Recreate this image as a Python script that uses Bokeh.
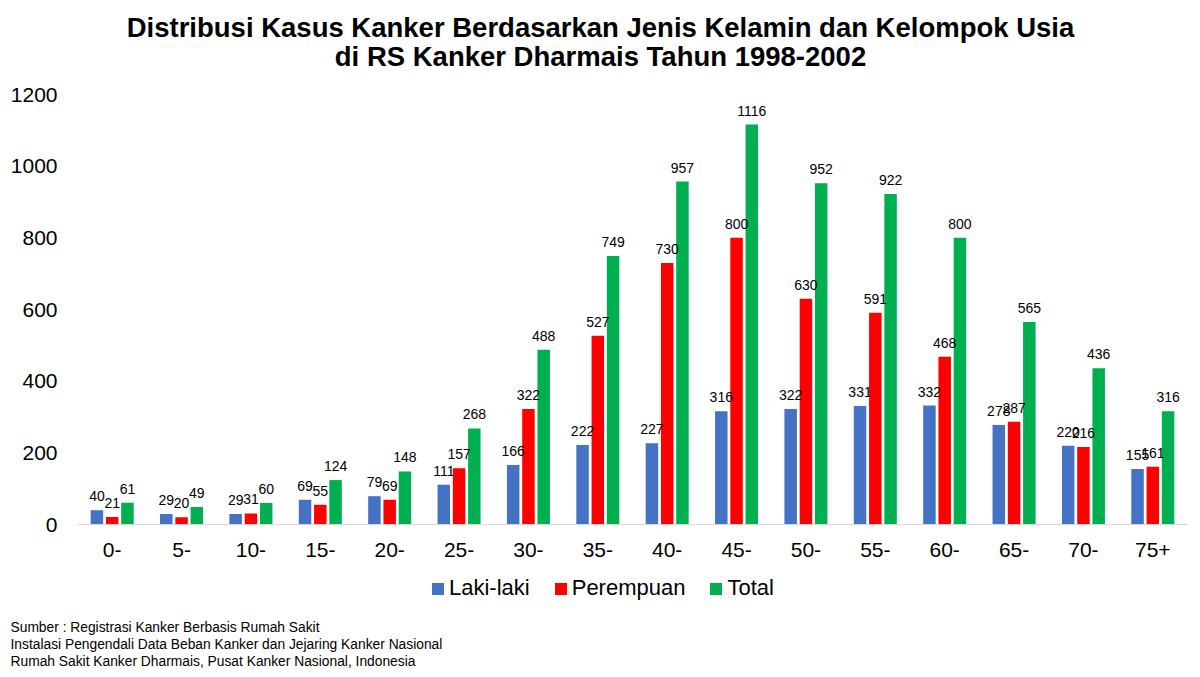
from bokeh.plotting import figure
from bokeh.models import (ColumnDataSource, FactorRange, Range1d, FixedTicker,
                          LabelSet, Legend, LegendItem)
from bokeh.core.properties import value
from bokeh.transform import dodge
from bokeh.embed import file_html
from bokeh.resources import INLINE

categories = ["0-", "5-", "10-", "15-", "20-", "25-", "30-", "35-", "40-", "45-",
              "50-", "55-", "60-", "65-", "70-", "75+"]
laki_laki = [40, 29, 29, 69, 79, 111, 166, 222, 227, 316, 322, 331, 332, 278, 220, 155]
perempuan = [21, 20, 31, 55, 69, 157, 322, 527, 730, 800, 630, 591, 468, 287, 216, 161]
total = [61, 49, 60, 124, 148, 268, 488, 749, 957, 1116, 952, 922, 800, 565, 436, 316]
y_ticks = [0, 200, 400, 600, 800, 1000, 1200]
series_names = ["Laki-laki", "Perempuan", "Total"]
series_colors = ["#4472C4", "#FF0000", "#00B050"]

title_lines = ["Distribusi Kasus Kanker Berdasarkan Jenis Kelamin dan Kelompok Usia",
               "di RS Kanker Dharmais Tahun 1998-2002"]
footer_lines = ["Sumber : Registrasi Kanker Berbasis Rumah Sakit",
                "Instalasi Pengendali Data Beban Kanker dan Jejaring Kanker Nasional",
                "Rumah Sakit Kanker Dharmais, Pusat Kanker Nasional, Indonesia"]

FONT = "Liberation Sans"
W = 1200


def blank(h):
    f = figure(width=W, height=h, output_backend="svg", toolbar_location=None,
               x_range=Range1d(0, W), y_range=Range1d(h, 0),
               min_border=0, min_border_left=0, min_border_right=0,
               min_border_top=0, min_border_bottom=0)
    f.axis.visible = False
    f.grid.visible = False
    f.outline_line_color = None
    return f


# ---- title strip ----
top = blank(82)
top.text(x=[W / 2, W / 2], y=[27, 56], text=title_lines, text_align="center",
         text_baseline="middle", text_font=value(FONT), text_font_size="27.5px",
         text_font_style="bold", text_color="#000000")

# ---- main chart ----
src = ColumnDataSource(dict(cat=categories, l=laki_laki, p=perempuan, t=total,
                            lt=[str(v) for v in laki_laki],
                            pt=[str(v) for v in perempuan],
                            tt=[str(v) for v in total]))

p = figure(width=W, height=488, output_backend="svg", toolbar_location=None, title=None,
           x_range=FactorRange(factors=categories, range_padding=0),
           y_range=Range1d(0, 1200),
           min_border_left=77, min_border_right=13, min_border_top=12, min_border_bottom=46)
p.outline_line_color = None
p.xgrid.visible = False
p.ygrid.visible = False

off = 0.22
w = 0.18
cols = ["l", "p", "t"]
tcols = ["lt", "pt", "tt"]
for i in range(3):
    xo = (i - 1) * off
    p.vbar(x=dodge("cat", xo, range=p.x_range), top=cols[i], width=w, source=src,
           fill_color=series_colors[i], line_color=None)
    p.add_layout(LabelSet(x=dodge("cat", xo, range=p.x_range), y=cols[i], text=tcols[i],
                          source=src, text_align="center", text_baseline="bottom",
                          y_offset=9, text_font=value(FONT), text_font_size="14px",
                          text_color="#000000"))

p.yaxis.ticker = FixedTicker(ticks=y_ticks)
p.yaxis.axis_line_color = None
p.yaxis.major_tick_line_color = None
p.yaxis.minor_tick_line_color = None
p.yaxis.major_label_standoff = 14
p.yaxis.major_label_text_font = FONT
p.yaxis.major_label_text_font_size = "21px"
p.yaxis.major_label_text_color = "#000000"

p.xaxis.axis_line_color = "#D9D9D9"
p.xaxis.axis_line_width = 1
p.xaxis.major_tick_line_color = None
p.xaxis.minor_tick_line_color = None
p.xaxis.major_label_standoff = 12
p.xaxis.major_label_text_font = FONT
p.xaxis.major_label_text_font_size = "21px"
p.xaxis.major_label_text_color = "#000000"

# ---- legend + source strip ----
bot = blank(107)
nan = float("nan")
items = []
for name, c in zip(series_names, series_colors):
    r = bot.vbar(x=[nan], top=[nan], width=1, fill_color=c, line_color=None)
    items.append(LegendItem(label=name, renderers=[r]))
legend = Legend(items=items, orientation="horizontal", location=(430, 76),
                glyph_width=15, glyph_height=15, label_standoff=4, spacing=23,
                padding=0, margin=0, border_line_color=None, background_fill_alpha=0,
                label_text_font=FONT, label_text_font_size="22px",
                label_text_color="#000000")
bot.add_layout(legend, "center")
bot.text(x=[10, 10, 10], y=[57, 74, 91], text=footer_lines, text_align="left",
         text_baseline="middle", text_font=value(FONT), text_font_size="13.8px",
         text_color="#000000")

open("out.html", "w").write(file_html([top, p, bot], INLINE))
